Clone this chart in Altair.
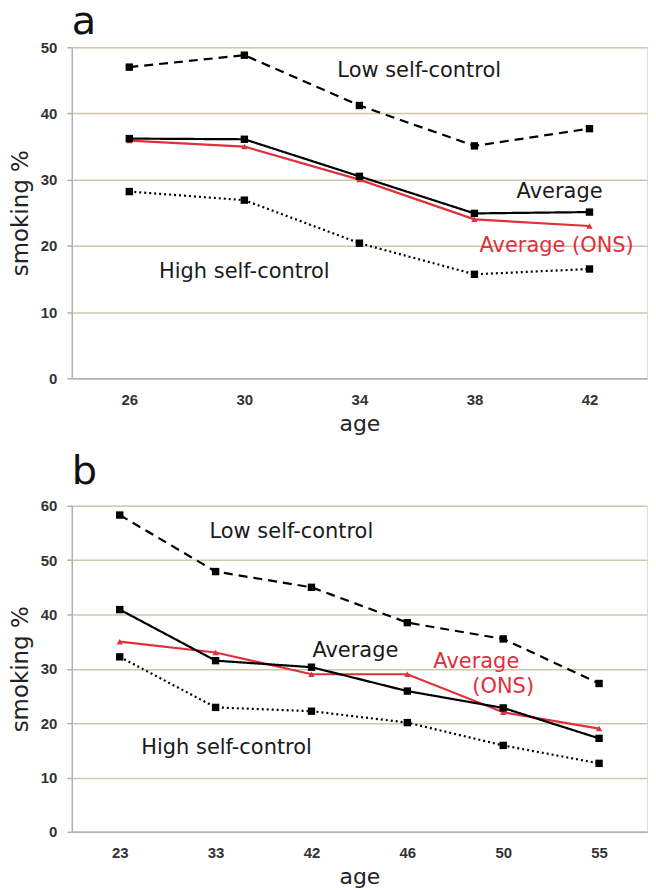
import altair as alt
import pandas as pd

# ---------------- data ----------------
ages_a = [26, 30, 34, 38, 42]
low_a = [47.0, 48.8, 41.2, 35.1, 37.7]
avg_a = [36.2, 36.1, 30.5, 24.9, 25.1]
ons_a = [35.9, 35.0, 30.0, 24.0, 23.0]
high_a = [28.2, 26.9, 20.4, 15.7, 16.5]

ages_b = [23, 33, 42, 46, 50, 55]
low_b = [58.3, 47.9, 45.0, 38.5, 35.5, 27.3]
avg_b = [40.9, 31.5, 30.3, 25.9, 22.8, 17.2]
ons_b = [35.0, 33.0, 29.0, 29.0, 22.0, 19.0]
high_b = [32.2, 22.9, 22.2, 20.1, 15.9, 12.6]

# annotations: text, anchor category, y value, dx offset, colour
ann_a_text = ["Low self-control", "Average", "Average (ONS)", "High self-control"]
ann_a_age = [34, 42, 42, 30]
ann_a_y = [46.4, 28.2, 20.0, 16.1]
ann_a_dx = [60, -30, -33, 0]
ann_a_col = ["black", "black", "red", "black"]

ann_b_text = ["Low self-control", "Average", "Average", "(ONS)", "High self-control"]
ann_b_age = [33, 42, 50, 50, 33]
ann_b_y = [55.2, 33.3, 31.3, 26.7, 15.5]
ann_b_dx = [76, 44, -27, 0, 11]
ann_b_col = ["black", "black", "red", "red", "black"]

RED = "#e0303c"
GRID = "#cdc8aa"
AXIS = "#b0b0b0"
FONT = "DejaVu Sans"
W = 577


def long_df(ages, low, avg, high):
    rows = []
    for name, vals in [("Low", low), ("High", high), ("Average", avg)]:
        for a, v in zip(ages, vals):
            rows.append({"age": str(a), "value": v, "series": name})
    return pd.DataFrame(rows)


def panel(ages, low, avg, ons, high, ymax, h, letter, title_offset,
          atext, aage, ay, adx, acol):
    order = [str(a) for a in ages]
    xenc = alt.X("age:O", sort=order, title="age",
                 axis=alt.Axis(labelAngle=0, ticks=False, grid=False,
                               domainColor=AXIS, domainWidth=1.5,
                               labelFont="Liberation Sans", labelFontSize=15,
                               labelFontWeight="bold", labelColor="#333",
                               labelPadding=14,
                               titleFont=FONT, titleFontSize=22,
                               titleFontWeight="normal", titlePadding=6,
                               titleColor="#222"))
    yenc = alt.Y("value:Q", title="smoking %",
                 scale=alt.Scale(domain=[0, ymax], nice=False),
                 axis=alt.Axis(values=list(range(0, ymax + 1, 10)),
                               gridColor=GRID, gridWidth=1.5,
                               domainColor=AXIS, domainWidth=1.5,
                               tickColor=AXIS, tickSize=5, tickWidth=1.5,
                               labelFont="Liberation Sans", labelFontSize=15,
                               labelFontWeight="bold", labelColor="#333",
                               labelPadding=10,
                               titleFont=FONT, titleFontSize=23,
                               titleFontWeight="normal", titlePadding=8,
                               titleColor="#222"))

    ons_df = pd.DataFrame({"age": order, "value": ons})
    df = long_df(ages, low, avg, high)

    ons_line = alt.Chart(ons_df).mark_line(color=RED, strokeWidth=2.2).encode(x=xenc, y=yenc)
    ons_pts = alt.Chart(ons_df).mark_point(shape="triangle-up", filled=True, color=RED,
                                           size=40, opacity=1).encode(x=xenc, y=yenc)
    lines = alt.Chart(df).mark_line(color="black", strokeWidth=2.2).encode(
        x=xenc, y=yenc,
        detail="series:N",
        strokeDash=alt.StrokeDash("series:N",
                                  scale=alt.Scale(domain=["Low", "High", "Average"],
                                                  range=[[9, 6], [2, 3], [1, 0]]),
                                  legend=None))
    pts = alt.Chart(df).mark_point(shape="square", filled=True, color="black",
                                   size=55, opacity=1).encode(x=xenc, y=yenc)

    ann_df = pd.DataFrame({"text": atext, "age": [str(a) for a in aage],
                           "value": ay, "dx": adx, "col": acol})
    texts = []
    for i in range(len(ann_df)):
        sub = ann_df.iloc[[i]]
        texts.append(alt.Chart(sub).mark_text(
            font=FONT, fontSize=21, baseline="middle", align="center",
            dx=int(sub["dx"].iloc[0]),
            color=RED if sub["col"].iloc[0] == "red" else "#1a1a1a").encode(
            x=xenc, y=yenc, text="text:N"))

    return alt.layer(ons_line, lines, ons_pts, pts, *texts).properties(
        width=W, height=h,
        title=alt.TitleParams(letter, anchor="start", fontSize=40, font=FONT,
                              fontWeight="normal", color="#111",
                              offset=title_offset, frame="group"))


pa = panel(ages_a, low_a, avg_a, ons_a, high_a, 50, 332, "a", -2,
           ann_a_text, ann_a_age, ann_a_y, ann_a_dx, ann_a_col)
pb = panel(ages_b, low_b, avg_b, ons_b, high_b, 60, 327, "b", 7,
           ann_b_text, ann_b_age, ann_b_y, ann_b_dx, ann_b_col)

chart = alt.vconcat(pa, pb, spacing=16).configure_view(stroke=None).configure(
    padding={"top": -8, "bottom": 0, "left": 0, "right": 0}, background="white")

chart.save("out.html", embed_options={"renderer": "svg", "actions": False})
